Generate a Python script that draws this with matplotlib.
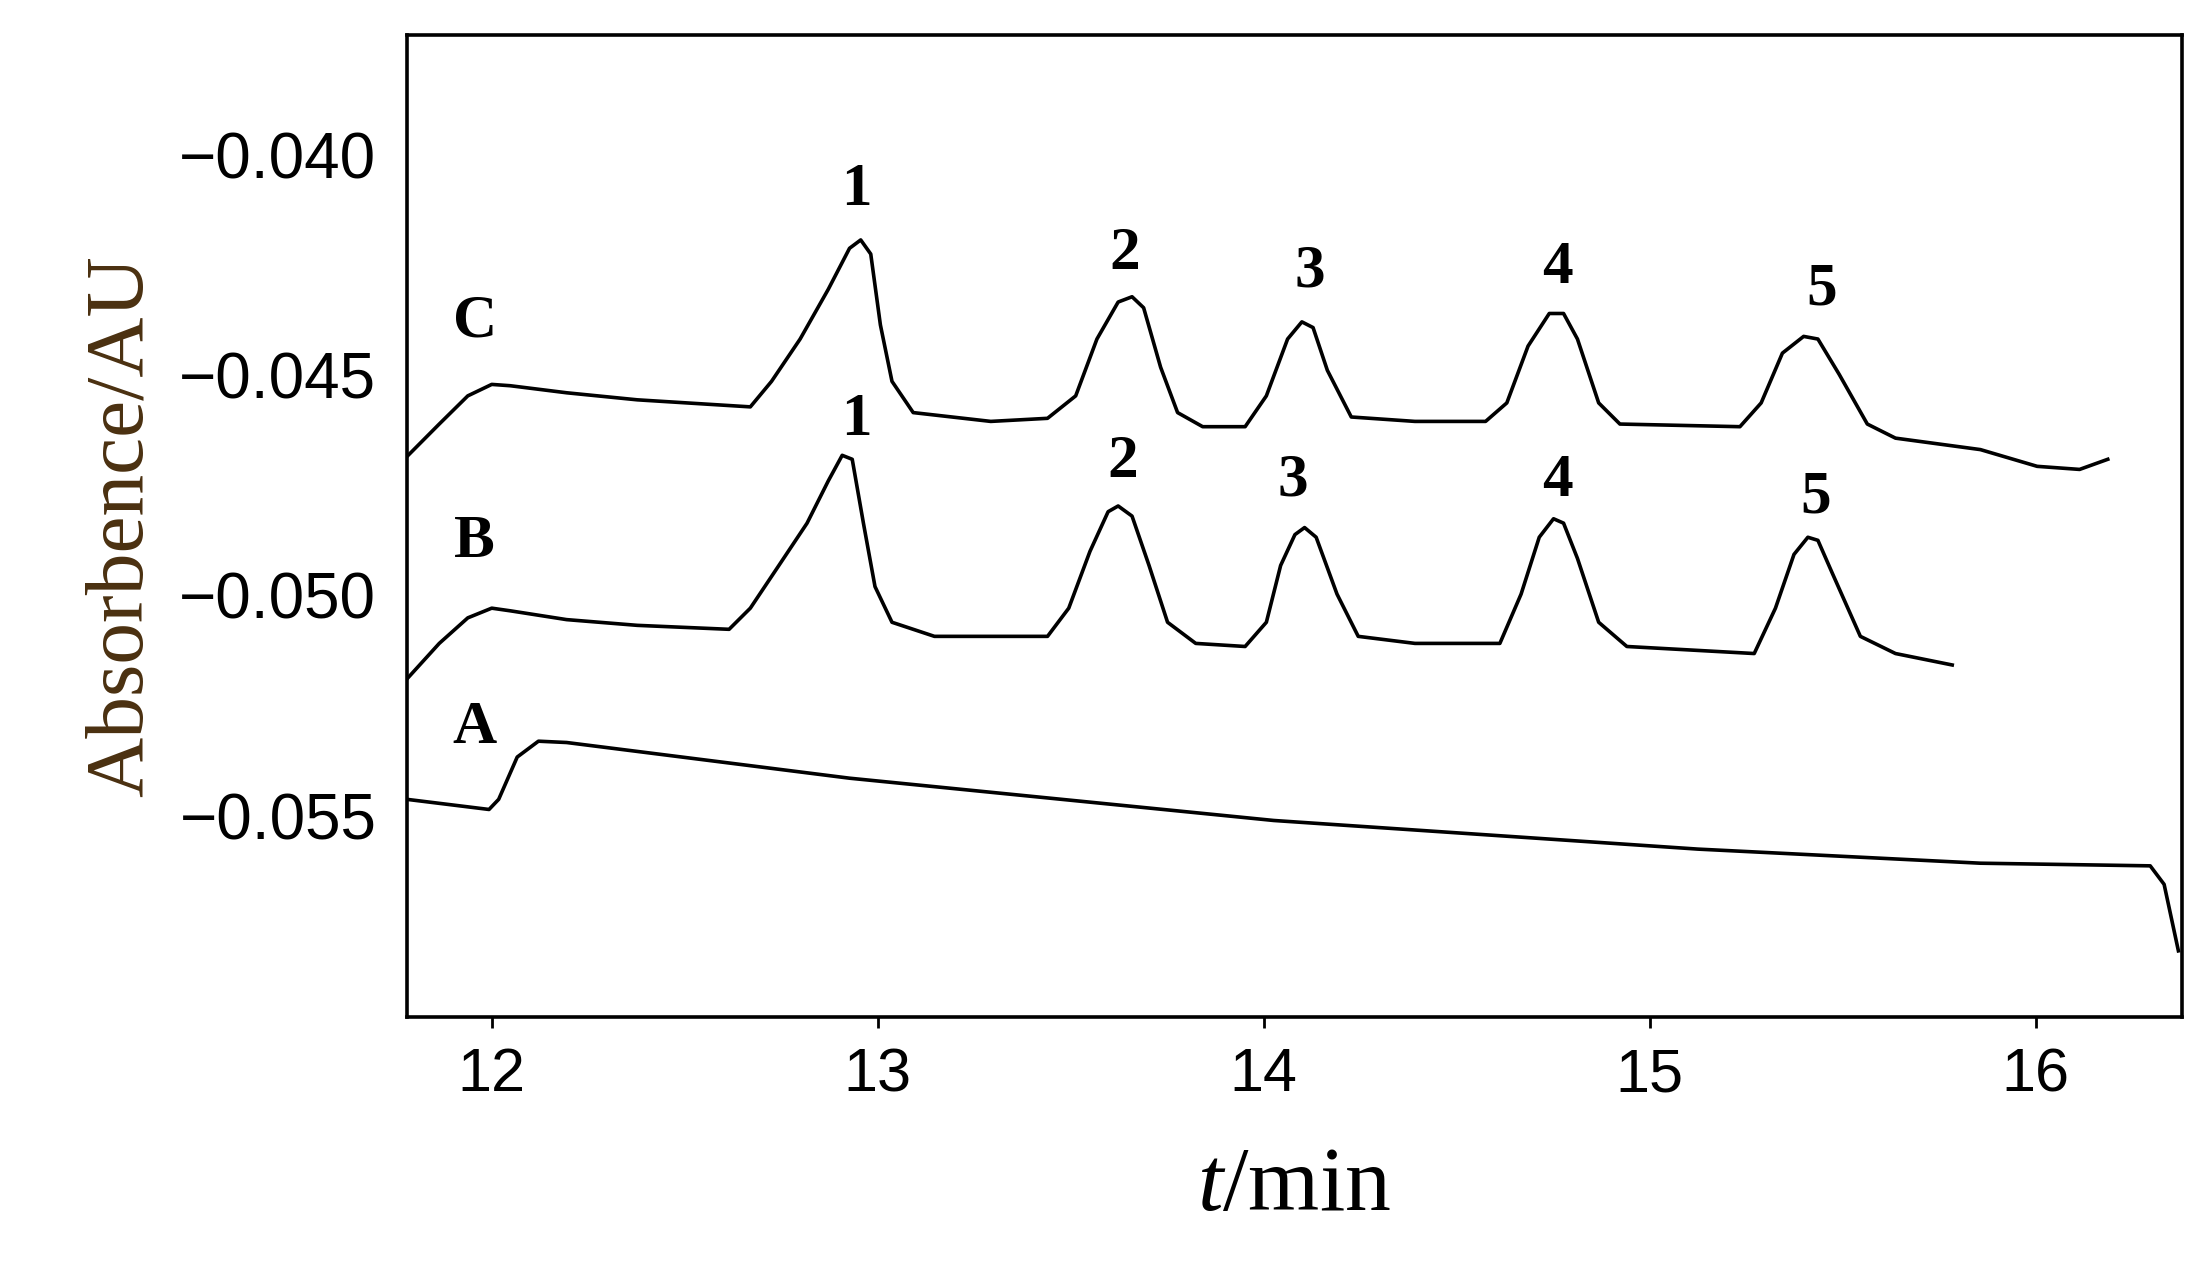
import matplotlib
matplotlib.use("Agg")
import matplotlib.pyplot as plt
plt.rcParams['mathtext.fontset']='custom'
plt.rcParams['mathtext.it']='Liberation Serif:italic'
plt.rcParams['mathtext.rm']='Liberation Serif'

# Trace C
c_t = [11.78,11.864,11.938,12.0,12.048,12.194,12.377,12.67,12.725,12.799,12.872,12.927,12.956,12.982,13.007,13.037,13.092,13.293,13.44,13.513,13.568,13.623,13.659,13.689,13.733,13.777,13.842,13.952,14.007,14.062,14.099,14.128,14.165,14.227,14.392,14.575,14.63,14.685,14.74,14.777,14.813,14.868,14.923,15.234,15.289,15.344,15.399,15.436,15.491,15.564,15.637,15.857,16.004,16.114,16.187]
c_a = [-0.04685,-0.04611,-0.04547,-0.04521,-0.04524,-0.0454,-0.04556,-0.04572,-0.04514,-0.04418,-0.04305,-0.04212,-0.04193,-0.04225,-0.04386,-0.04514,-0.04585,-0.04605,-0.04598,-0.04547,-0.04418,-0.04334,-0.04322,-0.04347,-0.04482,-0.04585,-0.04617,-0.04617,-0.04547,-0.04418,-0.04379,-0.04392,-0.04489,-0.04595,-0.04605,-0.04605,-0.04563,-0.04434,-0.0436,-0.0436,-0.04418,-0.04563,-0.04611,-0.04617,-0.04563,-0.0445,-0.04412,-0.04418,-0.04498,-0.04611,-0.04643,-0.04669,-0.04707,-0.04714,-0.04691]
# Trace B
b_t = [11.78,11.864,11.938,12.0,12.048,12.194,12.377,12.615,12.67,12.744,12.817,12.872,12.908,12.934,12.963,12.993,13.037,13.147,13.44,13.495,13.55,13.597,13.623,13.659,13.703,13.751,13.824,13.952,14.007,14.044,14.081,14.106,14.136,14.19,14.245,14.392,14.612,14.667,14.714,14.751,14.777,14.813,14.868,14.941,15.271,15.326,15.374,15.41,15.436,15.473,15.546,15.637,15.784]
b_a = [-0.0519,-0.05109,-0.05051,-0.05029,-0.05035,-0.05055,-0.05068,-0.05077,-0.05029,-0.04932,-0.04836,-0.0474,-0.04682,-0.04691,-0.04836,-0.0498,-0.05061,-0.05093,-0.05093,-0.05029,-0.049,-0.0481,-0.04797,-0.0482,-0.04932,-0.05061,-0.05109,-0.05116,-0.05061,-0.04932,-0.04862,-0.04846,-0.04868,-0.04997,-0.05093,-0.05109,-0.05109,-0.04997,-0.04868,-0.04826,-0.04836,-0.04916,-0.05061,-0.05116,-0.05132,-0.05029,-0.04907,-0.04868,-0.04875,-0.04949,-0.05093,-0.05132,-0.05158]
# Trace A
a_t = [11.78,11.993,12.018,12.066,12.121,12.194,12.927,14.026,15.125,15.857,16.297,16.333,16.37]
a_a = [-0.05463,-0.05486,-0.05463,-0.05367,-0.05331,-0.05334,-0.05415,-0.05511,-0.05576,-0.05608,-0.05614,-0.05656,-0.05807]

peak_names = ["1","2","3","4","5"]
c_peak_t = [12.945,13.64,14.12,14.76,15.445]
c_peak_a = [-0.0408,-0.04225,-0.04264,-0.04257,-0.04305]
b_peak_t = [12.945,13.635,14.075,14.76,15.43]
b_peak_a = [-0.04601,-0.04698,-0.0474,-0.0474,-0.04778]
trace_names = ["C","B","A"]
trace_label_a = [-0.04379,-0.04878,-0.05302]

yticks = [-0.040,-0.045,-0.050,-0.055]
ytick_labels = ["\u22120.040","\u22120.045","\u22120.050","\u22120.055"]
xticks = [12,13,14,15,16]

fig = plt.figure(figsize=(22.11,12.84), dpi=100)
ax = fig.add_axes([0.184,0.208,0.803,0.765])
for t,a in [(c_t,c_a),(b_t,b_a),(a_t,a_a)]:
    ax.plot(t,a,color='black',lw=2.6)
bold = dict(family='Liberation Serif', fontweight='bold', fontsize=44, ha='center', va='center')
for n,t,a in zip(peak_names,c_peak_t,c_peak_a):
    ax.text(t,a,n,**bold)
for n,t,a in zip(peak_names,b_peak_t,b_peak_a):
    ax.text(t,a,n,**bold)
for n,a in zip(trace_names,trace_label_a):
    ax.text(11.956,a,n,**bold)
ax.set_xlim(11.78,16.38)
ax.set_ylim(-0.05957,-0.03727)
ax.set_yticks(yticks)
ax.set_yticklabels(ytick_labels, family='Liberation Sans', fontsize=46)
ax.set_xticks(xticks)
ax.set_xticklabels([str(x) for x in xticks], family='Liberation Sans', fontsize=44)
ax.tick_params(axis='y', length=0, pad=22)
ax.tick_params(axis='x', length=8, width=2, direction='out', pad=14)
for s in ax.spines.values():
    s.set_linewidth(2.6)
ax.set_ylabel("Absorbence/AU", family='Liberation Serif', fontsize=60, color='#4a3010', labelpad=14)
ax.set_xlabel(r"$\it{t}$/min", family='Liberation Serif', fontsize=66, labelpad=30)
fig.savefig("out.png", dpi=100)
